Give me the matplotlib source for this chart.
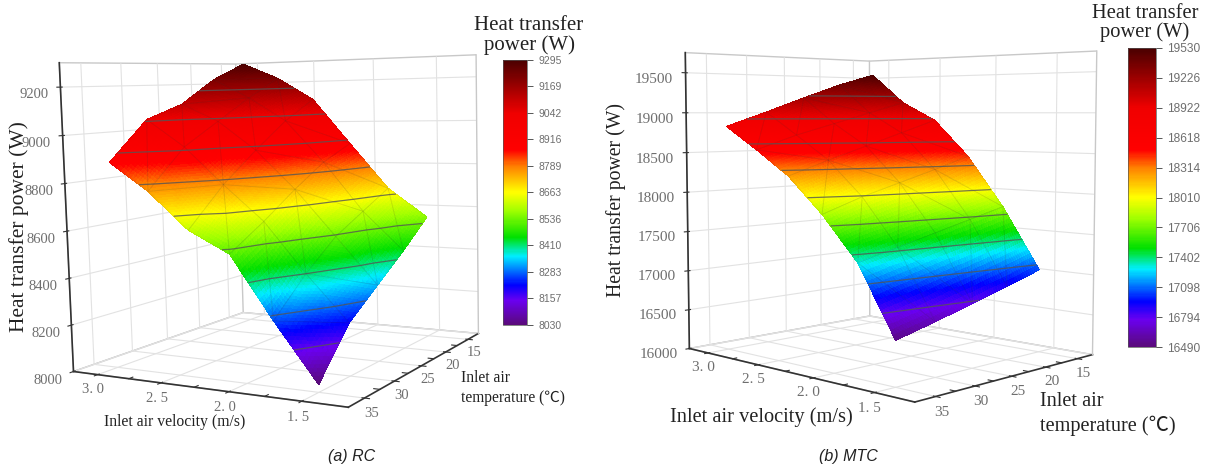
import numpy as np
import matplotlib
matplotlib.use("Agg")
import matplotlib.pyplot as plt
import matplotlib.tri as mtri
from matplotlib.colors import LinearSegmentedColormap, Normalize
from matplotlib.cm import ScalarMappable

velocity = [3.0, 2.7, 2.4, 2.1, 1.8, 1.5]
temperature = [15, 20, 25, 30, 35]

power_rc = [
    [9295, 9220, 9110, 9050, 8880],
    [9220, 9130, 9030, 8930, 8762],
    [9113, 9020, 8900, 8770, 8608],
    [8900, 8830, 8730, 8620, 8520],
    [8690, 8610, 8530, 8410, 8265],
    [8560, 8440, 8330, 8220, 8030],
]
power_mtc = [
    [19530, 19380, 19200, 19010, 18830],
    [19140, 19000, 18860, 18720, 18550],
    [18900, 18740, 18580, 18420, 18250],
    [18430, 18280, 18140, 18000, 17830],
    [17800, 17680, 17560, 17440, 17320],
    [17040, 16900, 16770, 16640, 16520],
]
ticks_rc = [8030, 8157, 8283, 8410, 8536, 8663, 8789, 8916, 9042, 9169, 9295]
ticks_mtc = [16490, 16794, 17098, 17402, 17706, 18010, 18314, 18618, 18922, 19226, 19530]
zticks_rc = [8000, 8200, 8400, 8600, 8800, 9000, 9200]
zticks_mtc = [16000, 16500, 17000, 17500, 18000, 18500, 19000, 19500]
v_minor = [1.75, 2.25, 2.75]
t_minor = [17.5, 22.5, 27.5, 32.5]

rainbow = LinearSegmentedColormap.from_list("rb", [
    (0.0, "#5a0a7a"), (0.09, "#6a00f0"), (0.15, "#0000ff"), (0.26, "#00eeff"),
    (0.33, "#00e000"), (0.43, "#a0ff00"), (0.50, "#ffff00"), (0.60, "#ff8000"),
    (0.66, "#ff0000"), (0.80, "#f00000"), (1.0, "#4a0000")])

serif = ["Liberation Serif", "Noto Sans CJK SC"]
grey = "#6e6e6e"
dark = "#333333"

fig = plt.figure(figsize=(12.09, 4.71), dpi=100)


def panel(rect, power, cticks, zticks, zlim, azim, elev, roll, zoom, box, tsize, zpad):
    ax = fig.add_axes(rect, projection="3d")
    ax.computed_zorder = False
    v, t = np.meshgrid(velocity, temperature, indexing="ij")
    z = np.array(power, dtype=float)
    tr = mtri.Triangulation(v.ravel(), t.ravel())
    refiner = mtri.UniformTriRefiner(tr)
    interp = mtri.LinearTriInterpolator(tr, z.ravel())
    fine, fine_z = refiner.refine_field(z.ravel(), triinterpolator=interp, subdiv=4)
    norm = Normalize(cticks[0], cticks[-1])
    # right-hand wall edge goes in first so the surface sits over it
    ax.plot([1.2, 1.2], [12.5, 12.5], zlim, color="#c8c8c8", lw=1.0, zorder=0)
    ax.plot_trisurf(fine, fine_z, cmap=rainbow, norm=norm, linewidth=0,
                    antialiased=False, shade=False, zorder=1)
    ax.plot_trisurf(tr, z.ravel(), color=(0, 0, 0, 0), edgecolor=(0.2, 0.2, 0.2, 0.08),
                    linewidth=0.6, shade=False, zorder=2)
    ax.tricontour(tr, z.ravel(), levels=cticks[1:-1], colors="#555555",
                  linewidths=0.9, alpha=0.8, zorder=3)
    ax.set_xlim(1.2, 3.2, view_margin=0)
    ax.set_ylim(12.5, 37.5, view_margin=0)
    ax.set_zlim(*zlim, view_margin=0)
    ax.set_xticks([1.5, 2.0, 2.5, 3.0], ["1. 5", "2. 0", "2. 5", "3. 0"])
    ax.set_yticks([15, 20, 25, 30, 35], ["15", "20", "25", "30", "35"])
    ax.set_zticks(zticks)
    ax.tick_params(labelsize=tsize, color=dark, labelcolor=grey, pad=-4,
                   labelfontfamily="Liberation Serif")
    ax.tick_params(axis="z", pad=zpad)
    ax.zaxis.set_ticks_position("upper")
    # short minor ticks along the two floor edges
    for m in v_minor:
        ax.plot([m, m], [37.5, 37.0], [zlim[0], zlim[0]], color=dark, lw=0.8, zorder=4)
    for m in t_minor:
        ax.plot([1.2, 1.24], [m, m], [zlim[0], zlim[0]], color=dark, lw=0.8, zorder=4)
    ax.view_init(elev=elev, azim=azim, roll=roll)
    ax.set_proj_type("persp", focal_length=0.45)
    ax.set_box_aspect(box, zoom=zoom)
    for a in (ax.xaxis, ax.yaxis, ax.zaxis):
        a.set_pane_color((1, 1, 1, 1))
        a.pane.set_edgecolor("#c8c8c8")
        a._axinfo["grid"].update(color="#e2e2e2", linewidth=0.8)
        a.line.set_color(dark)
        a.line.set_linewidth(1.2)
    return ax


ax1 = panel([-0.0065, 0.047, 0.47, 1.0], power_rc, ticks_rc, zticks_rc, (8000, 9300),
            azim=120, elev=6, roll=1.5, zoom=1.07, box=(0.953, 1, 0.952), tsize=10.5, zpad=2)
ax2 = panel([0.4945, 0.055, 0.47, 1.0], power_mtc, ticks_mtc, zticks_mtc, (16000, 19750),
            azim=134, elev=4.5, roll=0, zoom=1.045, box=(1.2, 1, 1.15), tsize=11, zpad=6)


def colorbar(x0, y0, x1, y1, cticks, size):
    cax = fig.add_axes([x0 / 1209, 1 - y1 / 471, (x1 - x0) / 1209, (y1 - y0) / 471])
    sm = ScalarMappable(Normalize(cticks[0], cticks[-1]), rainbow)
    cb = fig.colorbar(sm, cax=cax, ticks=cticks)
    cb.outline.set_edgecolor("#555555")
    cb.outline.set_linewidth(0.5)
    cb.ax.tick_params(labelsize=size, length=4, width=0.7, pad=4, color="#555555",
                      labelcolor=grey)
    for lab in cb.ax.get_yticklabels():
        lab.set_family("Liberation Sans")


colorbar(503, 60, 527, 325, ticks_rc, 7.5)
colorbar(1128, 48, 1156, 347, ticks_mtc, 8.6)


def label(x, y, s, size, **kw):
    fig.text(x / 1209, 1 - y / 471, s, fontsize=size, family=serif, color="#222222",
             ha=kw.pop("ha", "center"), va="center", **kw)


label(529, 25, "Heat transfer", 15)
label(529, 45, "power (W)", 15)
label(19, 227, "Heat transfer power (W)", 15.5, rotation=90)
label(175, 422, "Inlet air velocity (m/s)", 11.3)
label(461, 378, "Inlet air", 11.2, ha="left")
label(461, 398, "temperature (℃)", 11.2, ha="left")
label(1145, 13, "Heat transfer", 14.8)
label(1145, 32, "power (W)", 14.8)
label(616, 200, "Heat transfer power (W)", 14.2, rotation=90)
label(761, 417, "Inlet air velocity (m/s)", 14.7)
label(1040, 401, "Inlet air", 14.6, ha="left")
label(1040, 426, "temperature (℃)", 14.6, ha="left")

fig.text(352 / 1209, 1 - 456 / 471, "(a) RC", fontsize=11.5, style="italic",
         family="Liberation Sans", color="#222222", ha="center", va="center")
fig.text(848 / 1209, 1 - 456 / 471, "(b) MTC", fontsize=11.5, style="italic",
         family="Liberation Sans", color="#222222", ha="center", va="center")

fig.savefig("out.png", dpi=100)
